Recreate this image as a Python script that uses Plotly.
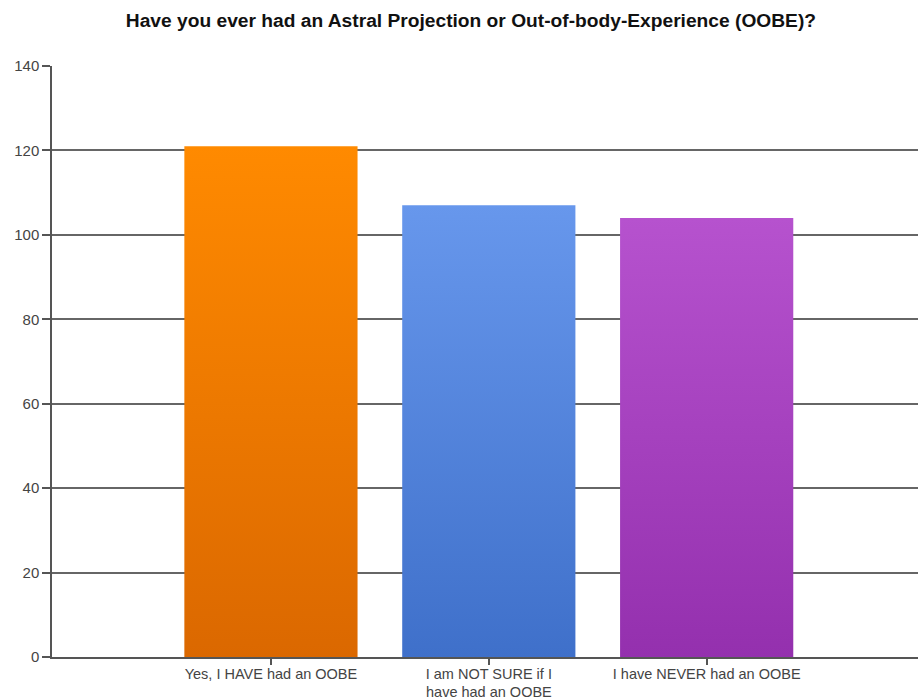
import plotly.graph_objects as go

categories = ["Yes, I HAVE had an OOBE", "I am NOT SURE if I", "I have NEVER had an OOBE"]
category_second_lines = ["", "have had an OOBE", ""]
values = [121, 107, 104]
top_colors = ["#FF8A00", "#6797EC", "#B652CE"]
bottom_colors = ["#DB6800", "#3F70CA", "#9430AE"]
y_ticks = [0, 20, 40, 60, 80, 100, 120, 140]

bar_width = 0.795
fig = go.Figure()
for i, (v, tc, bc) in enumerate(zip(values, top_colors, bottom_colors)):
    x0, x1 = i - bar_width / 2, i + bar_width / 2
    fig.add_trace(go.Scatter(
        x=[x0, x1, x1, x0, x0], y=[0, 0, v, v, 0],
        mode="lines", line=dict(width=0), fill="toself",
        fillgradient=dict(type="vertical", colorscale=[[0, bc], [1, tc]], start=0, stop=v),
        hoverinfo="text", text=f"{v}", showlegend=False,
    ))

for i, line2 in enumerate(category_second_lines):
    if line2:
        fig.add_annotation(x=i, xref="x", y=0, yref="paper", yanchor="middle", yshift=-35,
                           text=line2, showarrow=False,
                           font=dict(family="Liberation Sans, Arial", size=14.5, color="#444"))

fig.update_layout(
    width=918, height=700,
    paper_bgcolor="white", plot_bgcolor="white",
    margin=dict(l=52, r=0, t=66, b=43),
    title=dict(text="<b>Have you ever had an Astral Projection or Out-of-body-Experience (OOBE)?</b>",
               x=0.513, xanchor="center", y=0.971, yanchor="middle",
               font=dict(family="Liberation Sans, Arial", size=19.2, color="#111")),
    font=dict(family="Liberation Sans, Arial", size=15, color="#444"),
    xaxis=dict(range=[-1.005, 2.97], tickmode="array", tickvals=list(range(len(categories))),
               ticktext=categories, showgrid=False, zeroline=False, automargin=False,
               showline=True, linecolor="#555", linewidth=1.5,
               ticks="outside", ticklen=6, tickcolor="#555", tickwidth=1.5,
               ticklabelstandoff=-3,
               tickfont=dict(size=14.5, color="#444")),
    yaxis=dict(range=[0, 140], tickvals=y_ticks, showgrid=True, gridcolor="#666", gridwidth=1.6,
               zeroline=False, showline=True, linecolor="#555", linewidth=1.5, automargin=False,
               ticks="outside", ticklen=8, tickcolor="#555", tickwidth=1.5,
               tickfont=dict(size=15, color="#444")),
)
fig.write_html("out.html", config={"displayModeBar": False},
               post_script="document.body.style.margin='0';document.body.style.overflow='hidden';")
